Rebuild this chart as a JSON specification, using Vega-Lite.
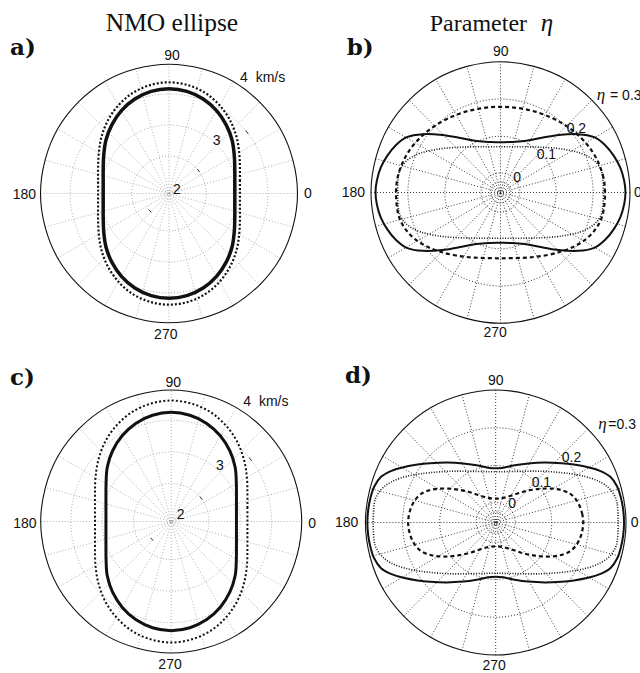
{
"$schema": "https://vega.github.io/schema/vega-lite/v6.json",
"padding": 0,
"background": "white",
"spacing": 0,
"config": {"view": {"stroke": null}},
"resolve": {"scale": {"x": "independent", "y": "independent", "size": "independent"}},
"datasets": {
"spokes": [{"x":-1,"y":0,"x2":1,"y2":0},{"x":-0.9659,"y":-0.2588,"x2":0.9659,"y2":0.2588},{"x":-0.866,"y":-0.5,"x2":0.866,"y2":0.5},{"x":-0.7071,"y":-0.7071,"x2":0.7071,"y2":0.7071},{"x":-0.5,"y":-0.866,"x2":0.5,"y2":0.866},{"x":-0.2588,"y":-0.9659,"x2":0.2588,"y2":0.9659},{"x":0,"y":-1,"x2":0,"y2":1},{"x":0.2588,"y":-0.9659,"x2":-0.2588,"y2":0.9659},{"x":0.5,"y":-0.866,"x2":-0.5,"y2":0.866},{"x":0.7071,"y":-0.7071,"x2":-0.7071,"y2":0.7071},{"x":0.866,"y":-0.5,"x2":-0.866,"y2":0.5},{"x":0.9659,"y":-0.2588,"x2":-0.9659,"y2":0.2588}],
"ticksAC": [{"x":0.616,"y":0.462,"x2":0.598,"y2":0.486},{"x":0.2377,"y":0.1668,"x2":0.2193,"y2":0.1904},{"x":-0.158,"y":-0.124,"x2":-0.138,"y2":-0.146}],
"outer": [{"x":1,"y":0},{"x":0.866,"y":0.5},{"x":0.5,"y":0.866},{"x":0,"y":1},{"x":-0.5,"y":0.866},{"x":-0.866,"y":0.5},{"x":-1,"y":0},{"x":-0.866,"y":-0.5},{"x":-0.5,"y":-0.866},{"x":0,"y":-1},{"x":0.5,"y":-0.866},{"x":0.866,"y":-0.5}],
"ringsAC": [
{"k":1,"x":0.29,"y":0},{"k":1,"x":0.2511,"y":0.145},{"k":1,"x":0.145,"y":0.2511},{"k":1,"x":0,"y":0.29},{"k":1,"x":-0.145,"y":0.2511},{"k":1,"x":-0.2511,"y":0.145},{"k":1,"x":-0.29,"y":0},{"k":1,"x":-0.2511,"y":-0.145},{"k":1,"x":-0.145,"y":-0.2511},{"k":1,"x":0,"y":-0.29},{"k":1,"x":0.145,"y":-0.2511},{"k":1,"x":0.2511,"y":-0.145},
{"k":2,"x":0.53,"y":0},{"k":2,"x":0.459,"y":0.265},{"k":2,"x":0.265,"y":0.459},{"k":2,"x":0,"y":0.53},{"k":2,"x":-0.265,"y":0.459},{"k":2,"x":-0.459,"y":0.265},{"k":2,"x":-0.53,"y":0},{"k":2,"x":-0.459,"y":-0.265},{"k":2,"x":-0.265,"y":-0.459},{"k":2,"x":0,"y":-0.53},{"k":2,"x":0.265,"y":-0.459},{"k":2,"x":0.459,"y":-0.265},
{"k":3,"x":0.77,"y":0},{"k":3,"x":0.6668,"y":0.385},{"k":3,"x":0.385,"y":0.6668},{"k":3,"x":0,"y":0.77},{"k":3,"x":-0.385,"y":0.6668},{"k":3,"x":-0.6668,"y":0.385},{"k":3,"x":-0.77,"y":0},{"k":3,"x":-0.6668,"y":-0.385},{"k":3,"x":-0.385,"y":-0.6668},{"k":3,"x":0,"y":-0.77},{"k":3,"x":0.385,"y":-0.6668},{"k":3,"x":0.6668,"y":-0.385}],
"ringsBD": [
{"k":1,"x":0.08,"y":0},{"k":1,"x":0.0693,"y":0.04},{"k":1,"x":0.04,"y":0.0693},{"k":1,"x":0,"y":0.08},{"k":1,"x":-0.04,"y":0.0693},{"k":1,"x":-0.0693,"y":0.04},{"k":1,"x":-0.08,"y":0},{"k":1,"x":-0.0693,"y":-0.04},{"k":1,"x":-0.04,"y":-0.0693},{"k":1,"x":0,"y":-0.08},{"k":1,"x":0.04,"y":-0.0693},{"k":1,"x":0.0693,"y":-0.04},
{"k":2,"x":0.15,"y":0},{"k":2,"x":0.1299,"y":0.075},{"k":2,"x":0.075,"y":0.1299},{"k":2,"x":0,"y":0.15},{"k":2,"x":-0.075,"y":0.1299},{"k":2,"x":-0.1299,"y":0.075},{"k":2,"x":-0.15,"y":0},{"k":2,"x":-0.1299,"y":-0.075},{"k":2,"x":-0.075,"y":-0.1299},{"k":2,"x":0,"y":-0.15},{"k":2,"x":0.075,"y":-0.1299},{"k":2,"x":0.1299,"y":-0.075},
{"k":3,"x":0.43,"y":0},{"k":3,"x":0.3724,"y":0.215},{"k":3,"x":0.215,"y":0.3724},{"k":3,"x":0,"y":0.43},{"k":3,"x":-0.215,"y":0.3724},{"k":3,"x":-0.3724,"y":0.215},{"k":3,"x":-0.43,"y":0},{"k":3,"x":-0.3724,"y":-0.215},{"k":3,"x":-0.215,"y":-0.3724},{"k":3,"x":0,"y":-0.43},{"k":3,"x":0.215,"y":-0.3724},{"k":3,"x":0.3724,"y":-0.215},
{"k":4,"x":0.715,"y":0},{"k":4,"x":0.6192,"y":0.3575},{"k":4,"x":0.3575,"y":0.6192},{"k":4,"x":0,"y":0.715},{"k":4,"x":-0.3575,"y":0.6192},{"k":4,"x":-0.6192,"y":0.3575},{"k":4,"x":-0.715,"y":0},{"k":4,"x":-0.6192,"y":-0.3575},{"k":4,"x":-0.3575,"y":-0.6192},{"k":4,"x":0,"y":-0.715},{"k":4,"x":0.3575,"y":-0.6192},{"k":4,"x":0.6192,"y":-0.3575}],
"a_solid": [{"x":0.512,"y":0},{"x":0.512,"y":0.09},{"x":0.512,"y":0.187},{"x":0.508,"y":0.295},{"x":0.491,"y":0.412},{"x":0.445,"y":0.531},{"x":0.37,"y":0.641},{"x":0.266,"y":0.731},{"x":0.139,"y":0.79},{"x":0,"y":0.81},{"x":-0.139,"y":0.79},{"x":-0.266,"y":0.731},{"x":-0.37,"y":0.641},{"x":-0.445,"y":0.531},{"x":-0.491,"y":0.412},{"x":-0.508,"y":0.295},{"x":-0.512,"y":0.187},{"x":-0.512,"y":0.09},{"x":-0.512,"y":0},{"x":-0.512,"y":-0.09},{"x":-0.512,"y":-0.187},{"x":-0.508,"y":-0.295},{"x":-0.491,"y":-0.412},{"x":-0.445,"y":-0.531},{"x":-0.37,"y":-0.641},{"x":-0.266,"y":-0.731},{"x":-0.139,"y":-0.79},{"x":0,"y":-0.81},{"x":0.139,"y":-0.79},{"x":0.266,"y":-0.731},{"x":0.37,"y":-0.641},{"x":0.445,"y":-0.531},{"x":0.491,"y":-0.412},{"x":0.508,"y":-0.295},{"x":0.512,"y":-0.187},{"x":0.512,"y":-0.09}],
"a_dotted": [{"x":0.552,"y":0},{"x":0.552,"y":0.097},{"x":0.552,"y":0.202},{"x":0.546,"y":0.317},{"x":0.525,"y":0.44},{"x":0.475,"y":0.566},{"x":0.394,"y":0.682},{"x":0.283,"y":0.777},{"x":0.148,"y":0.838},{"x":0,"y":0.86},{"x":-0.148,"y":0.838},{"x":-0.283,"y":0.777},{"x":-0.394,"y":0.682},{"x":-0.475,"y":0.566},{"x":-0.525,"y":0.44},{"x":-0.546,"y":0.317},{"x":-0.552,"y":0.202},{"x":-0.552,"y":0.097},{"x":-0.552,"y":0},{"x":-0.552,"y":-0.097},{"x":-0.552,"y":-0.202},{"x":-0.546,"y":-0.317},{"x":-0.525,"y":-0.44},{"x":-0.475,"y":-0.566},{"x":-0.394,"y":-0.682},{"x":-0.283,"y":-0.777},{"x":-0.148,"y":-0.838},{"x":0,"y":-0.86},{"x":0.148,"y":-0.838},{"x":0.283,"y":-0.777},{"x":0.394,"y":-0.682},{"x":0.475,"y":-0.566},{"x":0.525,"y":-0.44},{"x":0.546,"y":-0.317},{"x":0.552,"y":-0.202},{"x":0.552,"y":-0.097}],
"c_solid": [{"x":0.5,"y":0},{"x":0.5,"y":0.088},{"x":0.5,"y":0.184},{"x":0.499,"y":0.293},{"x":0.49,"y":0.413},{"x":0.45,"y":0.536},{"x":0.376,"y":0.652},{"x":0.272,"y":0.746},{"x":0.143,"y":0.808},{"x":0,"y":0.83},{"x":-0.143,"y":0.808},{"x":-0.272,"y":0.746},{"x":-0.376,"y":0.652},{"x":-0.45,"y":0.536},{"x":-0.49,"y":0.413},{"x":-0.499,"y":0.293},{"x":-0.5,"y":0.184},{"x":-0.5,"y":0.088},{"x":-0.5,"y":0},{"x":-0.5,"y":-0.088},{"x":-0.5,"y":-0.184},{"x":-0.499,"y":-0.293},{"x":-0.49,"y":-0.413},{"x":-0.45,"y":-0.536},{"x":-0.376,"y":-0.652},{"x":-0.272,"y":-0.746},{"x":-0.143,"y":-0.808},{"x":0,"y":-0.83},{"x":0.143,"y":-0.808},{"x":0.272,"y":-0.746},{"x":0.376,"y":-0.652},{"x":0.45,"y":-0.536},{"x":0.49,"y":-0.413},{"x":0.499,"y":-0.293},{"x":0.5,"y":-0.184},{"x":0.5,"y":-0.088}],
"c_dotted": [{"x":0.584,"y":0},{"x":0.584,"y":0.103},{"x":0.584,"y":0.213},{"x":0.58,"y":0.336},{"x":0.558,"y":0.469},{"x":0.507,"y":0.604},{"x":0.421,"y":0.728},{"x":0.302,"y":0.831},{"x":0.158,"y":0.896},{"x":0,"y":0.92},{"x":-0.158,"y":0.896},{"x":-0.302,"y":0.831},{"x":-0.421,"y":0.728},{"x":-0.507,"y":0.604},{"x":-0.558,"y":0.469},{"x":-0.58,"y":0.336},{"x":-0.584,"y":0.213},{"x":-0.584,"y":0.103},{"x":-0.584,"y":0},{"x":-0.584,"y":-0.103},{"x":-0.584,"y":-0.213},{"x":-0.58,"y":-0.336},{"x":-0.558,"y":-0.469},{"x":-0.507,"y":-0.604},{"x":-0.421,"y":-0.728},{"x":-0.302,"y":-0.831},{"x":-0.158,"y":-0.896},{"x":0,"y":-0.92},{"x":0.158,"y":-0.896},{"x":0.302,"y":-0.831},{"x":0.421,"y":-0.728},{"x":0.507,"y":-0.604},{"x":0.558,"y":-0.469},{"x":0.58,"y":-0.336},{"x":0.584,"y":-0.213},{"x":0.584,"y":-0.103}],
"b_solid": [{"x":0.965,"y":0},{"x":0.955,"y":0.09},{"x":0.925,"y":0.19},{"x":0.875,"y":0.28},{"x":0.81,"y":0.36},{"x":0.724,"y":0.423},{"x":0.6,"y":0.446},{"x":0.45,"y":0.44},{"x":0.32,"y":0.418},{"x":0.184,"y":0.394},{"x":0.08,"y":0.386},{"x":0,"y":0.385},{"x":-0.08,"y":0.386},{"x":-0.184,"y":0.394},{"x":-0.32,"y":0.418},{"x":-0.45,"y":0.44},{"x":-0.6,"y":0.446},{"x":-0.724,"y":0.423},{"x":-0.81,"y":0.36},{"x":-0.875,"y":0.28},{"x":-0.925,"y":0.19},{"x":-0.955,"y":0.09},{"x":-0.965,"y":0},{"x":-0.955,"y":-0.09},{"x":-0.925,"y":-0.19},{"x":-0.875,"y":-0.28},{"x":-0.81,"y":-0.36},{"x":-0.724,"y":-0.423},{"x":-0.6,"y":-0.446},{"x":-0.45,"y":-0.44},{"x":-0.32,"y":-0.418},{"x":-0.184,"y":-0.394},{"x":-0.08,"y":-0.386},{"x":0,"y":-0.385},{"x":0.08,"y":-0.386},{"x":0.184,"y":-0.394},{"x":0.32,"y":-0.418},{"x":0.45,"y":-0.44},{"x":0.6,"y":-0.446},{"x":0.724,"y":-0.423},{"x":0.81,"y":-0.36},{"x":0.875,"y":-0.28},{"x":0.925,"y":-0.19},{"x":0.955,"y":-0.09}],
"b_dashed": [{"x":0.807,"y":0},{"x":0.795,"y":0.114},{"x":0.758,"y":0.224},{"x":0.699,"y":0.328},{"x":0.618,"y":0.421},{"x":0.519,"y":0.502},{"x":0.404,"y":0.567},{"x":0.276,"y":0.616},{"x":0.14,"y":0.645},{"x":0,"y":0.655},{"x":-0.14,"y":0.645},{"x":-0.276,"y":0.616},{"x":-0.404,"y":0.567},{"x":-0.519,"y":0.502},{"x":-0.618,"y":0.421},{"x":-0.699,"y":0.328},{"x":-0.758,"y":0.224},{"x":-0.795,"y":0.114},{"x":-0.807,"y":0},{"x":-0.797,"y":-0.131},{"x":-0.77,"y":-0.22},{"x":-0.722,"y":-0.295},{"x":-0.658,"y":-0.358},{"x":-0.575,"y":-0.41},{"x":-0.474,"y":-0.45},{"x":-0.353,"y":-0.48},{"x":-0.211,"y":-0.497},{"x":0,"y":-0.503},{"x":0.211,"y":-0.497},{"x":0.353,"y":-0.48},{"x":0.474,"y":-0.45},{"x":0.575,"y":-0.41},{"x":0.658,"y":-0.358},{"x":0.722,"y":-0.295},{"x":0.77,"y":-0.22},{"x":0.797,"y":-0.131}],
"b_dotted": [{"x":0.795,"y":0},{"x":0.788,"y":0.129},{"x":0.767,"y":0.19},{"x":0.732,"y":0.236},{"x":0.683,"y":0.272},{"x":0.618,"y":0.301},{"x":0.535,"y":0.322},{"x":0.431,"y":0.338},{"x":0.293,"y":0.347},{"x":0.15,"y":0.35},{"x":0,"y":0.35},{"x":-0.15,"y":0.35},{"x":-0.293,"y":0.347},{"x":-0.431,"y":0.338},{"x":-0.535,"y":0.322},{"x":-0.618,"y":0.301},{"x":-0.683,"y":0.272},{"x":-0.732,"y":0.236},{"x":-0.767,"y":0.19},{"x":-0.788,"y":0.129},{"x":-0.795,"y":0},{"x":-0.788,"y":-0.129},{"x":-0.767,"y":-0.19},{"x":-0.732,"y":-0.236},{"x":-0.683,"y":-0.272},{"x":-0.618,"y":-0.301},{"x":-0.535,"y":-0.322},{"x":-0.431,"y":-0.338},{"x":-0.293,"y":-0.347},{"x":-0.15,"y":-0.35},{"x":0,"y":-0.35},{"x":0.15,"y":-0.35},{"x":0.293,"y":-0.347},{"x":0.431,"y":-0.338},{"x":0.535,"y":-0.322},{"x":0.618,"y":-0.301},{"x":0.683,"y":-0.272},{"x":0.732,"y":-0.236},{"x":0.767,"y":-0.19},{"x":0.788,"y":-0.129}],
"d_solid": [{"x":0.985,"y":0},{"x":0.978,"y":0.1},{"x":0.96,"y":0.19},{"x":0.933,"y":0.27},{"x":0.88,"y":0.345},{"x":0.8,"y":0.39},{"x":0.709,"y":0.417},{"x":0.6,"y":0.437},{"x":0.504,"y":0.447},{"x":0.376,"y":0.452},{"x":0.25,"y":0.446},{"x":0.146,"y":0.432},{"x":0.06,"y":0.414},{"x":0,"y":0.409},{"x":-0.06,"y":0.414},{"x":-0.146,"y":0.432},{"x":-0.25,"y":0.446},{"x":-0.376,"y":0.452},{"x":-0.504,"y":0.447},{"x":-0.6,"y":0.437},{"x":-0.709,"y":0.417},{"x":-0.8,"y":0.39},{"x":-0.88,"y":0.345},{"x":-0.933,"y":0.27},{"x":-0.96,"y":0.19},{"x":-0.978,"y":0.1},{"x":-0.985,"y":0},{"x":-0.978,"y":-0.1},{"x":-0.96,"y":-0.19},{"x":-0.933,"y":-0.27},{"x":-0.88,"y":-0.345},{"x":-0.8,"y":-0.39},{"x":-0.709,"y":-0.417},{"x":-0.6,"y":-0.437},{"x":-0.504,"y":-0.447},{"x":-0.376,"y":-0.452},{"x":-0.25,"y":-0.446},{"x":-0.146,"y":-0.432},{"x":-0.06,"y":-0.414},{"x":0,"y":-0.409},{"x":0.06,"y":-0.414},{"x":0.146,"y":-0.432},{"x":0.25,"y":-0.446},{"x":0.376,"y":-0.452},{"x":0.504,"y":-0.447},{"x":0.6,"y":-0.437},{"x":0.709,"y":-0.417},{"x":0.8,"y":-0.39},{"x":0.88,"y":-0.345},{"x":0.933,"y":-0.27},{"x":0.96,"y":-0.19},{"x":0.978,"y":-0.1}],
"d_dotted": [{"x":0.94,"y":0},{"x":0.932,"y":0.144},{"x":0.907,"y":0.211},{"x":0.866,"y":0.262},{"x":0.807,"y":0.303},{"x":0.73,"y":0.335},{"x":0.633,"y":0.359},{"x":0.509,"y":0.376},{"x":0.346,"y":0.387},{"x":0.17,"y":0.386},{"x":0,"y":0.383},{"x":-0.17,"y":0.386},{"x":-0.346,"y":0.387},{"x":-0.509,"y":0.376},{"x":-0.633,"y":0.359},{"x":-0.73,"y":0.335},{"x":-0.807,"y":0.303},{"x":-0.866,"y":0.262},{"x":-0.907,"y":0.211},{"x":-0.932,"y":0.144},{"x":-0.94,"y":0},{"x":-0.932,"y":-0.144},{"x":-0.907,"y":-0.211},{"x":-0.866,"y":-0.262},{"x":-0.807,"y":-0.303},{"x":-0.73,"y":-0.335},{"x":-0.633,"y":-0.359},{"x":-0.509,"y":-0.376},{"x":-0.346,"y":-0.387},{"x":-0.17,"y":-0.386},{"x":0,"y":-0.383},{"x":0.17,"y":-0.386},{"x":0.346,"y":-0.387},{"x":0.509,"y":-0.376},{"x":0.633,"y":-0.359},{"x":0.73,"y":-0.335},{"x":0.807,"y":-0.303},{"x":0.866,"y":-0.262},{"x":0.907,"y":-0.211},{"x":0.932,"y":-0.144}],
"d_dashed": [{"x":0.672,"y":0},{"x":0.665,"y":0.06},{"x":0.647,"y":0.119},{"x":0.615,"y":0.175},{"x":0.57,"y":0.218},{"x":0.51,"y":0.243},{"x":0.442,"y":0.255},{"x":0.36,"y":0.256},{"x":0.289,"y":0.248},{"x":0.21,"y":0.232},{"x":0.135,"y":0.208},{"x":0.06,"y":0.186},{"x":0,"y":0.18},{"x":-0.06,"y":0.186},{"x":-0.135,"y":0.208},{"x":-0.21,"y":0.232},{"x":-0.289,"y":0.248},{"x":-0.36,"y":0.256},{"x":-0.442,"y":0.255},{"x":-0.51,"y":0.243},{"x":-0.57,"y":0.218},{"x":-0.615,"y":0.175},{"x":-0.647,"y":0.119},{"x":-0.665,"y":0.06},{"x":-0.672,"y":0},{"x":-0.665,"y":-0.06},{"x":-0.647,"y":-0.119},{"x":-0.615,"y":-0.175},{"x":-0.57,"y":-0.218},{"x":-0.51,"y":-0.243},{"x":-0.442,"y":-0.255},{"x":-0.36,"y":-0.256},{"x":-0.289,"y":-0.248},{"x":-0.21,"y":-0.232},{"x":-0.135,"y":-0.208},{"x":-0.06,"y":-0.186},{"x":0,"y":-0.18},{"x":0.06,"y":-0.186},{"x":0.135,"y":-0.208},{"x":0.21,"y":-0.232},{"x":0.289,"y":-0.248},{"x":0.36,"y":-0.256},{"x":0.442,"y":-0.255},{"x":0.51,"y":-0.243},{"x":0.57,"y":-0.218},{"x":0.615,"y":-0.175},{"x":0.647,"y":-0.119},{"x":0.665,"y":-0.06}]
},
"vconcat": [
{
"spacing": 0,
"resolve": {"scale": {"x": "independent", "y": "independent", "size": "independent"}},
"hconcat": [
{
"width": 320, "height": 345,
"encoding": {
"x": {"field":"x","type":"quantitative","scale":{"domain":[-1.3152,1.1751],"nice":false,"zero":false},"axis":null},
"y": {"field":"y","type":"quantitative","scale":{"domain":[-1.1717,1.4965],"nice":false,"zero":false},"axis":null}
},
"layer": [
{"data":{"name":"spokes"},"mark":{"type":"rule","stroke":"#9a9a9a","strokeWidth":0.8,"strokeDash":[1,2]},"encoding":{"x2":{"field":"x2"},"y2":{"field":"y2"}}},
{"data":{"name":"ringsAC"},"mark":{"type":"line","interpolate":"cardinal-closed","stroke":"#9a9a9a","strokeWidth":0.8,"strokeDash":[1,2]},"encoding":{"detail":{"field":"k","type":"nominal"},"order":{"value":null}}},
{"data":{"name":"ticksAC"},"mark":{"type":"rule","stroke":"#333","strokeWidth":1},"encoding":{"x2":{"field":"x2"},"y2":{"field":"y2"}}},
{"data":{"values":[{"r":0.012},{"r":0.024},{"r":0.036}]},"mark":{"type":"point","shape":"circle","filled":false,"opacity":1,"stroke":"#9a9a9a","strokeWidth":0.8},"encoding":{"x":{"datum":0,"type":"quantitative","scale":{"domain":[-1.3152,1.1751],"nice":false,"zero":false},"axis":null},"y":{"datum":0,"type":"quantitative","scale":{"domain":[-1.1717,1.4965],"nice":false,"zero":false},"axis":null},"size":{"field":"r","type":"quantitative","scale":{"type":"pow","exponent":2,"domain":[0,1],"range":[0,66461]},"legend":null}}},
{"data":{"name":"outer"},"mark":{"type":"line","interpolate":"cardinal-closed","stroke":"#111","strokeWidth":1.1},"encoding":{"order":{"value":null}}},
{"data":{"name":"a_dotted"},"mark":{"type":"line","interpolate":"cardinal-closed","stroke":"#111","strokeWidth":2.2,"strokeDash":[2,2]},"encoding":{"order":{"value":null}}},
{"data":{"name":"a_solid"},"mark":{"type":"line","interpolate":"cardinal-closed","stroke":"#111","strokeWidth":3.5},"encoding":{"order":{"value":null}}},
{"data":{"values":[{"x":0.023,"y":1.032,"t":"90"},{"x":-0.025,"y":-1.129,"t":"270"},{"x":0.371,"y":0.375,"t":"3"}]},"mark":{"type":"text","align":"center","baseline":"alphabetic","font":"Liberation Sans","fontSize":14,"fill":"#111"},"encoding":{"text":{"field":"t"}}},
{"data":{"values":[{"x":1.051,"y":-0.037,"t":"0"},{"x":0.553,"y":0.865,"t":"4\u00a0\u00a0km/s"},{"x":0.031,"y":-0.004,"t":"2"}]},"mark":{"type":"text","align":"left","baseline":"alphabetic","font":"Liberation Sans","fontSize":14,"fill":"#111"},"encoding":{"text":{"field":"t"}}},
{"data":{"values":[{"x":-1.035,"y":-0.045,"t":"180"}]},"mark":{"type":"text","align":"right","baseline":"alphabetic","font":"Liberation Sans","fontSize":14,"fill":"#111"},"encoding":{"text":{"field":"t"}}},
{"data":{"values":[{"x":0.023,"y":1.257,"t":"NMO ellipse"}]},"mark":{"type":"text","align":"center","baseline":"alphabetic","font":"Liberation Serif","fontSize":25.5,"fill":"#111"},"encoding":{"text":{"field":"t"}}},
{"data":{"values":[{"x":-1.237,"y":1.071,"t":"a)"}]},"mark":{"type":"text","align":"left","baseline":"alphabetic","font":"DejaVu Serif","fontWeight":"bold","fontSize":23,"fill":"#111"},"encoding":{"text":{"field":"t"}}}
]
},
{
"width": 320, "height": 345,
"encoding": {
"x": {"field":"x","type":"quantitative","scale":{"domain":[-1.3938,1.0772],"nice":false,"zero":false},"axis":null},
"y": {"field":"y","type":"quantitative","scale":{"domain":[-1.1659,1.4717],"nice":false,"zero":false},"axis":null}
},
"layer": [
{"data":{"name":"spokes"},"mark":{"type":"rule","stroke":"#222","strokeWidth":0.9,"strokeDash":[1,2]},"encoding":{"x2":{"field":"x2"},"y2":{"field":"y2"}}},
{"data":{"name":"ringsBD"},"mark":{"type":"line","interpolate":"cardinal-closed","stroke":"#222","strokeWidth":0.9,"strokeDash":[1,2]},"encoding":{"detail":{"field":"k","type":"nominal"},"order":{"value":null}}},
{"data":{"values":[{"r":0.035}]},"mark":{"type":"point","shape":"circle","filled":false,"opacity":1,"stroke":"#111","strokeWidth":1.1},"encoding":{"x":{"datum":0,"type":"quantitative","scale":{"domain":[-1.3938,1.0772],"nice":false,"zero":false},"axis":null},"y":{"datum":0,"type":"quantitative","scale":{"domain":[-1.1659,1.4717],"nice":false,"zero":false},"axis":null},"size":{"field":"r","type":"quantitative","scale":{"type":"pow","exponent":2,"domain":[0,1],"range":[0,67756]},"legend":null}}},
{"data":{"values":[{"r":0.014}]},"mark":{"type":"point","shape":"circle","filled":true,"opacity":1,"fill":"#111","strokeWidth":0},"encoding":{"x":{"datum":0,"type":"quantitative","scale":{"domain":[-1.3938,1.0772],"nice":false,"zero":false},"axis":null},"y":{"datum":0,"type":"quantitative","scale":{"domain":[-1.1659,1.4717],"nice":false,"zero":false},"axis":null},"size":{"field":"r","type":"quantitative","scale":{"type":"pow","exponent":2,"domain":[0,1],"range":[0,67756]},"legend":null}}},
{"data":{"name":"outer"},"mark":{"type":"line","interpolate":"cardinal-closed","stroke":"#111","strokeWidth":1.1},"encoding":{"order":{"value":null}}},
{"data":{"name":"b_dotted"},"mark":{"type":"line","interpolate":"cardinal-closed","stroke":"#111","strokeWidth":1.6,"strokeDash":[1,1.6]},"encoding":{"order":{"value":null}}},
{"data":{"name":"b_dashed"},"mark":{"type":"line","interpolate":"cardinal-closed","stroke":"#111","strokeWidth":2.2,"strokeDash":[4,3]},"encoding":{"order":{"value":null}}},
{"data":{"name":"b_solid"},"mark":{"type":"line","interpolate":"cardinal-closed","stroke":"#111","strokeWidth":2},"encoding":{"order":{"value":null}}},
{"data":{"values":[{"x":0.002,"y":1.044,"t":"90"},{"x":-0.042,"y":-1.102,"t":"270"}]},"mark":{"type":"text","align":"center","baseline":"alphabetic","font":"Liberation Sans","fontSize":14,"fill":"#111"},"encoding":{"text":{"field":"t"}}},
{"data":{"values":[{"x":1.031,"y":-0.037,"t":"0"},{"x":0.511,"y":0.457,"t":"0.2"},{"x":0.279,"y":0.254,"t":"0.1"},{"x":0.099,"y":0.083,"t":"0"},{"x":0.846,"y":0.707,"t":"= 0.3"}]},"mark":{"type":"text","align":"left","baseline":"alphabetic","font":"Liberation Sans","fontSize":14,"fill":"#111","clip":true},"encoding":{"text":{"field":"t"}}},
{"data":{"values":[{"x":-1.046,"y":-0.032,"t":"180"}]},"mark":{"type":"text","align":"right","baseline":"alphabetic","font":"Liberation Sans","fontSize":14,"fill":"#111"},"encoding":{"text":{"field":"t"}}},
{"data":{"values":[{"x":0.743,"y":0.707,"t":"η"}]},"mark":{"type":"text","align":"left","baseline":"alphabetic","font":"Liberation Serif","fontStyle":"italic","fontSize":17,"fill":"#111"},"encoding":{"text":{"field":"t"}}},
{"data":{"values":[{"x":0.205,"y":1.235,"t":"Parameter"}]},"mark":{"type":"text","align":"right","baseline":"alphabetic","font":"Liberation Serif","fontSize":24,"fill":"#111"},"encoding":{"text":{"field":"t"}}},
{"data":{"values":[{"x":0.31,"y":1.235,"t":"η"}]},"mark":{"type":"text","align":"left","baseline":"alphabetic","font":"Liberation Serif","fontStyle":"italic","fontSize":25,"fill":"#111"},"encoding":{"text":{"field":"t"}}},
{"data":{"values":[{"x":-1.188,"y":1.051,"t":"b)"}]},"mark":{"type":"text","align":"left","baseline":"alphabetic","font":"DejaVu Serif","fontWeight":"bold","fontSize":23,"fill":"#111"},"encoding":{"text":{"field":"t"}}}
]
}
]
},
{
"spacing": 0,
"resolve": {"scale": {"x": "independent", "y": "independent", "size": "independent"}},
"hconcat": [
{
"width": 320, "height": 328,
"encoding": {
"x": {"field":"x","type":"quantitative","scale":{"domain":[-1.3119,1.1402],"nice":false,"zero":false},"axis":null},
"y": {"field":"y","type":"quantitative","scale":{"domain":[-1.1521,1.3422],"nice":false,"zero":false},"axis":null}
},
"layer": [
{"data":{"name":"spokes"},"mark":{"type":"rule","stroke":"#9a9a9a","strokeWidth":0.8,"strokeDash":[1,2]},"encoding":{"x2":{"field":"x2"},"y2":{"field":"y2"}}},
{"data":{"name":"ringsAC"},"mark":{"type":"line","interpolate":"cardinal-closed","stroke":"#9a9a9a","strokeWidth":0.8,"strokeDash":[1,2]},"encoding":{"detail":{"field":"k","type":"nominal"},"order":{"value":null}}},
{"data":{"name":"ticksAC"},"mark":{"type":"rule","stroke":"#333","strokeWidth":1},"encoding":{"x2":{"field":"x2"},"y2":{"field":"y2"}}},
{"data":{"values":[{"r":0.012},{"r":0.024},{"r":0.036}]},"mark":{"type":"point","shape":"circle","filled":false,"opacity":1,"stroke":"#9a9a9a","strokeWidth":0.8},"encoding":{"x":{"datum":0,"type":"quantitative","scale":{"domain":[-1.3119,1.1402],"nice":false,"zero":false},"axis":null},"y":{"datum":0,"type":"quantitative","scale":{"domain":[-1.1521,1.3422],"nice":false,"zero":false},"axis":null},"size":{"field":"r","type":"quantitative","scale":{"type":"pow","exponent":2,"domain":[0,1],"range":[0,68644]},"legend":null}}},
{"data":{"name":"outer"},"mark":{"type":"line","interpolate":"cardinal-closed","stroke":"#111","strokeWidth":1.1},"encoding":{"order":{"value":null}}},
{"data":{"name":"c_dotted"},"mark":{"type":"line","interpolate":"cardinal-closed","stroke":"#111","strokeWidth":2,"strokeDash":[2,2.2]},"encoding":{"order":{"value":null}}},
{"data":{"name":"c_solid"},"mark":{"type":"line","interpolate":"cardinal-closed","stroke":"#111","strokeWidth":3},"encoding":{"order":{"value":null}}},
{"data":{"values":[{"x":0.016,"y":1.025,"t":"90"},{"x":-0.009,"y":-1.12,"t":"270"},{"x":0.374,"y":0.392,"t":"3"}]},"mark":{"type":"text","align":"center","baseline":"alphabetic","font":"Liberation Sans","fontSize":14,"fill":"#111"},"encoding":{"text":{"field":"t"}}},
{"data":{"values":[{"x":1.051,"y":-0.052,"t":"0"},{"x":0.553,"y":0.881,"t":"4\u00a0\u00a0km/s"},{"x":0.042,"y":0.017,"t":"2"}]},"mark":{"type":"text","align":"left","baseline":"alphabetic","font":"Liberation Sans","fontSize":14,"fill":"#111"},"encoding":{"text":{"field":"t"}}},
{"data":{"values":[{"x":-1.031,"y":-0.052,"t":"180"}]},"mark":{"type":"text","align":"right","baseline":"alphabetic","font":"Liberation Sans","fontSize":14,"fill":"#111"},"encoding":{"text":{"field":"t"}}},
{"data":{"values":[{"x":-1.235,"y":1.038,"t":"c)"}]},"mark":{"type":"text","align":"left","baseline":"alphabetic","font":"DejaVu Serif","fontWeight":"bold","fontSize":23,"fill":"#111"},"encoding":{"text":{"field":"t"}}}
]
},
{
"width": 320, "height": 328,
"encoding": {
"x": {"field":"x","type":"quantitative","scale":{"domain":[-1.3484,1.1074],"nice":false,"zero":false},"axis":null},
"y": {"field":"y","type":"quantitative","scale":{"domain":[-1.1358,1.3396],"nice":false,"zero":false},"axis":null}
},
"layer": [
{"data":{"name":"spokes"},"mark":{"type":"rule","stroke":"#222","strokeWidth":0.9,"strokeDash":[1,2]},"encoding":{"x2":{"field":"x2"},"y2":{"field":"y2"}}},
{"data":{"name":"ringsBD"},"mark":{"type":"line","interpolate":"cardinal-closed","stroke":"#222","strokeWidth":0.9,"strokeDash":[1,2]},"encoding":{"detail":{"field":"k","type":"nominal"},"order":{"value":null}}},
{"data":{"values":[{"r":0.035}]},"mark":{"type":"point","shape":"circle","filled":false,"opacity":1,"stroke":"#111","strokeWidth":1.1},"encoding":{"x":{"datum":0,"type":"quantitative","scale":{"domain":[-1.3484,1.1074],"nice":false,"zero":false},"axis":null},"y":{"datum":0,"type":"quantitative","scale":{"domain":[-1.1358,1.3396],"nice":false,"zero":false},"axis":null},"size":{"field":"r","type":"quantitative","scale":{"type":"pow","exponent":2,"domain":[0,1],"range":[0,69064]},"legend":null}}},
{"data":{"values":[{"r":0.014}]},"mark":{"type":"point","shape":"circle","filled":true,"opacity":1,"fill":"#111","strokeWidth":0},"encoding":{"x":{"datum":0,"type":"quantitative","scale":{"domain":[-1.3484,1.1074],"nice":false,"zero":false},"axis":null},"y":{"datum":0,"type":"quantitative","scale":{"domain":[-1.1358,1.3396],"nice":false,"zero":false},"axis":null},"size":{"field":"r","type":"quantitative","scale":{"type":"pow","exponent":2,"domain":[0,1],"range":[0,69064]},"legend":null}}},
{"data":{"name":"outer"},"mark":{"type":"line","interpolate":"cardinal-closed","stroke":"#111","strokeWidth":1.1},"encoding":{"order":{"value":null}}},
{"data":{"name":"d_dotted"},"mark":{"type":"line","interpolate":"cardinal-closed","stroke":"#111","strokeWidth":1.6,"strokeDash":[1,1.6]},"encoding":{"order":{"value":null}}},
{"data":{"name":"d_dashed"},"mark":{"type":"line","interpolate":"cardinal-closed","stroke":"#111","strokeWidth":2.2,"strokeDash":[4,3]},"encoding":{"order":{"value":null}}},
{"data":{"name":"d_solid"},"mark":{"type":"line","interpolate":"cardinal-closed","stroke":"#111","strokeWidth":2},"encoding":{"order":{"value":null}}},
{"data":{"values":[{"x":0.001,"y":1.038,"t":"90"},{"x":-0.012,"y":-1.112,"t":"270"}]},"mark":{"type":"text","align":"center","baseline":"alphabetic","font":"Liberation Sans","fontSize":14,"fill":"#111"},"encoding":{"text":{"field":"t"}}},
{"data":{"values":[{"x":1.036,"y":-0.032,"t":"0"},{"x":0.507,"y":0.459,"t":"0.2"},{"x":0.276,"y":0.27,"t":"0.1"},{"x":0.097,"y":0.107,"t":"0"},{"x":0.864,"y":0.706,"t":"=0.3"}]},"mark":{"type":"text","align":"left","baseline":"alphabetic","font":"Liberation Sans","fontSize":14,"fill":"#111","clip":true},"encoding":{"text":{"field":"t"}}},
{"data":{"values":[{"x":-1.054,"y":-0.032,"t":"180"}]},"mark":{"type":"text","align":"right","baseline":"alphabetic","font":"Liberation Sans","fontSize":14,"fill":"#111"},"encoding":{"text":{"field":"t"}}},
{"data":{"values":[{"x":0.787,"y":0.706,"t":"η"}]},"mark":{"type":"text","align":"left","baseline":"alphabetic","font":"Liberation Serif","fontStyle":"italic","fontSize":17,"fill":"#111"},"encoding":{"text":{"field":"t"}}},
{"data":{"values":[{"x":-1.157,"y":1.051,"t":"d)"}]},"mark":{"type":"text","align":"left","baseline":"alphabetic","font":"DejaVu Serif","fontWeight":"bold","fontSize":23,"fill":"#111"},"encoding":{"text":{"field":"t"}}}
]
}
]
}
]
}
